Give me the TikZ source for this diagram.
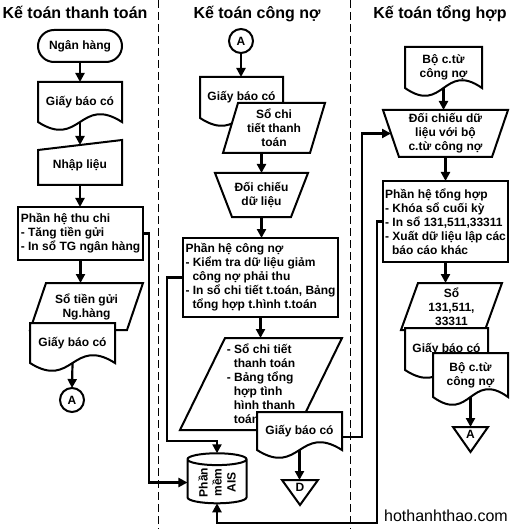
\documentclass[tikz,border=0pt]{standalone}
\usepackage{fontspec}
\setmainfont{Liberation Sans}
\usetikzlibrary{shapes.geometric,arrows.meta,calc}
\makeatletter
\newdimen\fc@xa \newdimen\fc@ya \newdimen\fc@xb \newdimen\fc@yb
\newdimen\fc@xm \newdimen\fc@s \newdimen\fc@t \newdimen\fc@u
\def\fc@slant{0pt}
\tikzset{shape slant/.code={\def\fc@slant{#1}}}
\def\fc@getbox{%
  \southwest \fc@xa=\pgf@x \fc@ya=\pgf@y
  \northeast \fc@xb=\pgf@x \fc@yb=\pgf@y
  \fc@xm=.5\fc@xa \advance\fc@xm by .5\fc@xb
  \pgfmathsetlength\fc@s{\fc@slant}%
}
% document
\pgfdeclareshape{fcdoc}{
  \inheritsavedanchors[from=rectangle]
  \inheritanchorborder[from=rectangle]
  \inheritanchor[from=rectangle]{center}
  \inheritanchor[from=rectangle]{north}
  \inheritanchor[from=rectangle]{south}
  \inheritanchor[from=rectangle]{east}
  \inheritanchor[from=rectangle]{west}
  \inheritanchor[from=rectangle]{north east}
  \inheritanchor[from=rectangle]{north west}
  \inheritanchor[from=rectangle]{south east}
  \inheritanchor[from=rectangle]{south west}
  \backgroundpath{
    \fc@getbox
    \fc@t=\fc@ya \advance\fc@t by 27pt
    \fc@u=\fc@ya \advance\fc@u by -27pt
    \pgfpathmoveto{\pgfqpoint{\fc@xa}{\fc@yb}}
    \pgfpathlineto{\pgfqpoint{\fc@xb}{\fc@yb}}
    \pgfpathlineto{\pgfqpoint{\fc@xb}{\fc@ya}}
    \pgfpathcurveto{\pgfqpoint{\fc@xm}{\fc@t}}{\pgfqpoint{\fc@xm}{\fc@u}}{\pgfqpoint{\fc@xa}{\fc@ya}}
    \pgfpathclose
  }
}
% parallelogram (data)
\pgfdeclareshape{fcpara}{
  \inheritsavedanchors[from=rectangle]
  \inheritanchorborder[from=rectangle]
  \inheritanchor[from=rectangle]{center}
  \inheritanchor[from=rectangle]{north}
  \inheritanchor[from=rectangle]{south}
  \inheritanchor[from=rectangle]{east}
  \inheritanchor[from=rectangle]{west}
  \inheritanchor[from=rectangle]{north east}
  \inheritanchor[from=rectangle]{north west}
  \inheritanchor[from=rectangle]{south east}
  \inheritanchor[from=rectangle]{south west}
  \backgroundpath{
    \fc@getbox
    \pgfpathmoveto{\pgfqpoint{\fc@xa}{\fc@ya}}
    \fc@t=\fc@xa \advance\fc@t by \fc@s
    \pgfpathlineto{\pgfqpoint{\fc@t}{\fc@yb}}
    \pgfpathlineto{\pgfqpoint{\fc@xb}{\fc@yb}}
    \fc@t=\fc@xb \advance\fc@t by -\fc@s
    \pgfpathlineto{\pgfqpoint{\fc@t}{\fc@ya}}
    \pgfpathclose
  }
}
% manual input
\pgfdeclareshape{fcmanin}{
  \inheritsavedanchors[from=rectangle]
  \inheritanchorborder[from=rectangle]
  \inheritanchor[from=rectangle]{center}
  \inheritanchor[from=rectangle]{north}
  \inheritanchor[from=rectangle]{south}
  \inheritanchor[from=rectangle]{east}
  \inheritanchor[from=rectangle]{west}
  \inheritanchor[from=rectangle]{north east}
  \inheritanchor[from=rectangle]{north west}
  \inheritanchor[from=rectangle]{south east}
  \inheritanchor[from=rectangle]{south west}
  \backgroundpath{
    \fc@getbox
    \pgfpathmoveto{\pgfqpoint{\fc@xa}{\fc@ya}}
    \fc@t=\fc@yb \advance\fc@t by -.5\fc@s
    \pgfpathlineto{\pgfqpoint{\fc@xa}{\fc@t}}
    \fc@t=\fc@yb \advance\fc@t by .5\fc@s
    \pgfpathlineto{\pgfqpoint{\fc@xb}{\fc@t}}
    \pgfpathlineto{\pgfqpoint{\fc@xb}{\fc@ya}}
    \pgfpathclose
  }
}
% manual operation (wide top)
\pgfdeclareshape{fcmanop}{
  \inheritsavedanchors[from=rectangle]
  \inheritanchorborder[from=rectangle]
  \inheritanchor[from=rectangle]{center}
  \inheritanchor[from=rectangle]{north}
  \inheritanchor[from=rectangle]{south}
  \inheritanchor[from=rectangle]{east}
  \inheritanchor[from=rectangle]{west}
  \inheritanchor[from=rectangle]{north east}
  \inheritanchor[from=rectangle]{north west}
  \inheritanchor[from=rectangle]{south east}
  \inheritanchor[from=rectangle]{south west}
  \backgroundpath{
    \fc@getbox
    \pgfpathmoveto{\pgfqpoint{\fc@xa}{\fc@yb}}
    \pgfpathlineto{\pgfqpoint{\fc@xb}{\fc@yb}}
    \fc@t=\fc@xb \advance\fc@t by -\fc@s
    \pgfpathlineto{\pgfqpoint{\fc@t}{\fc@ya}}
    \fc@t=\fc@xa \advance\fc@t by \fc@s
    \pgfpathlineto{\pgfqpoint{\fc@t}{\fc@ya}}
    \pgfpathclose
  }
}
% off-page connector (inverted triangle, tip below box)
\pgfdeclareshape{fcoff}{
  \inheritsavedanchors[from=rectangle]
  \inheritanchorborder[from=rectangle]
  \inheritanchor[from=rectangle]{center}
  \inheritanchor[from=rectangle]{north}
  \inheritanchor[from=rectangle]{south}
  \inheritanchor[from=rectangle]{east}
  \inheritanchor[from=rectangle]{west}
  \inheritanchor[from=rectangle]{north east}
  \inheritanchor[from=rectangle]{north west}
  \inheritanchor[from=rectangle]{south east}
  \inheritanchor[from=rectangle]{south west}
  \backgroundpath{
    \fc@getbox
    \pgfpathmoveto{\pgfqpoint{\fc@xa}{\fc@yb}}
    \pgfpathlineto{\pgfqpoint{\fc@xb}{\fc@yb}}
    \fc@t=\fc@ya \advance\fc@t by -\fc@s
    \pgfpathlineto{\pgfqpoint{\fc@xm}{\fc@t}}
    \pgfpathclose
  }
}
\makeatother
\begin{document}
\begin{tikzpicture}[x=1pt,y=-1pt,
  every node/.style={font=\fontsize{12}{14}\selectfont\bfseries, outer sep=0pt},
  fl/.style={draw, line width=2pt, fill=white, inner sep=2pt},
  boxnode/.style={fl, rectangle, align=left},
  docnode/.style={fl, shape=fcdoc, align=center},
  paranode/.style={fl, shape=fcpara, align=center},
  maninnode/.style={fl, shape=fcmanin, align=center},
  manopnode/.style={fl, shape=fcmanop, align=center},
  offnode/.style={fl, shape=fcoff, inner sep=0pt},
  termnode/.style={fl, rectangle, rounded corners=16pt},
  circnode/.style={draw, circle, line width=2pt, fill=white, minimum size=24pt, inner sep=0pt},
  conn/.style={line width=2.2pt, -{Triangle[length=9pt,width=9pt]}},
  sepline/.style={line width=1pt, dash pattern=on 8pt off 4pt},
  title/.style={font=\fontsize{16}{19}\selectfont\bfseries, anchor=base},
]
\useasboundingbox (0,0) rectangle (512,529);
\fill[white] (0,0) rectangle (512,529);
% lane separators
\coordinate (s1t) at (158,0); \coordinate (s1b) at (158,529);
\coordinate (s2t) at (350,0); \coordinate (s2b) at (350,529);
\draw[sepline] (s1t) -- (s1b);
\draw[sepline] (s2t) -- (s2b);
% titles
\node[title] (t1) at (75,19) {Kế toán thanh toán};
\node[title] (t2) at (257,19) {Kế toán công nợ};
\node[title] (t3) at (440,19) {Kế toán tổng hợp};
% left lane
\node[termnode, minimum width=84pt, minimum height=32pt] (bank) at (80,46) {Ngân hàng};
\node[docnode, minimum width=84pt, minimum height=40pt] (gbc1) at (80,102) {Giấy báo có};
\node[maninnode, shape slant=10pt, minimum width=84pt, minimum height=40pt] (nhap) at (80,165) {Nhập liệu};
\node[boxnode, minimum width=125pt, minimum height=53pt] (thuchi) at (80.5,233.5) {Phần hệ thu chi\\- Tăng tiền gửi\\- In sổ TG ngân hàng};
\node[paranode, shape slant=16pt, minimum width=113pt, minimum height=47pt] (sotg) at (86.5,306.5) {Sổ tiền gửi\\Ng.hàng};
\node[docnode, minimum width=85pt, minimum height=40pt] (gbc2) at (72.5,343) {Giấy báo có};
\node[circnode] (a1) at (72,400) {A};
% middle lane
\node[circnode] (a2) at (241,41) {A};
\node[docnode, minimum width=83pt, minimum height=41pt] (gbc3) at (241.5,97.5) {Giấy báo có};
\node[paranode, shape slant=15pt, minimum width=102pt, minimum height=50pt] (soct) at (274,128) {Sổ chi\\tiết thanh\\toán};
\node[manopnode, shape slant=17pt, minimum width=93pt, minimum height=44pt] (dc1) at (261.5,195) {Đối chiếu\\dữ liệu};
\node[boxnode, minimum width=155pt, minimum height=79pt] (congno) at (260.5,277.5) {Phần hệ công nợ\\- Kiểm tra dữ liệu giảm\\\hspace*{7pt}công nợ phải thu\\- In sổ chi tiết t.toán, Bảng\\\hspace*{7pt}tổng hợp t.hình t.toán};
\node[paranode, shape slant=45pt, minimum width=162pt, minimum height=92pt, align=left] (bangth) at (261,384) {- Sổ chi tiết\\\hspace*{7pt}thanh toán\\- Bảng tổng\\\hspace*{7pt}hợp tình\\\hspace*{7pt}hình thanh\\\hspace*{7pt}toán};
\node[docnode, minimum width=85pt, minimum height=38pt] (gbc4) at (299.5,431) {Giấy báo có};
\node[offnode, shape slant=11pt, minimum width=36pt, minimum height=14pt] (d) at (300,487) {D};
% right lane
\node[docnode, minimum width=77pt, minimum height=41pt] (bct1) at (443.5,67.5) {Bộ c.từ\\công nợ};
\node[manopnode, shape slant=16pt, minimum width=125pt, minimum height=47pt] (dc2) at (445.5,133.5) {Đối chiếu dữ\\liệu với bộ\\c.từ công nợ};
\node[boxnode, minimum width=125pt, minimum height=81pt] (tonghop) at (445.5,221.5) {Phần hệ tổng hợp\\- Khóa sổ cuối kỳ\\- In sổ 131,511,33311\\- Xuất dữ liệu lập các\\\hspace*{7pt}báo cáo khác};
\node[paranode, shape slant=17pt, minimum width=101pt, minimum height=47pt] (so131) at (451.5,306.5) {Sổ\\131,511,\\33311};
\node[docnode, minimum width=83pt, minimum height=42pt] (gbc5) at (446.5,349) {Giấy báo có};
\node[docnode, minimum width=75pt, minimum height=44pt] (bct2) at (470.5,375) {Bộ c.từ\\công nợ};
\node[offnode, shape slant=11pt, minimum width=35pt, minimum height=14pt] (a3) at (470.5,434) {A};
% database
\node[cylinder, draw, line width=2pt, fill=white, rotate=90, minimum width=59pt, minimum height=50pt, aspect=0.3, inner sep=1pt, align=center] (ais) at (217,482.5) {Phần\\mềm\\AIS};
% watermark
\node[font=\fontsize{16}{19}\selectfont, anchor=base] (wm) at (446,521) {hothanhthao.com};
% connectors
\draw[conn] (bank.south) -- (gbc1.north);
\draw[conn] (gbc1.south) -- (nhap.north);
\draw[conn] (nhap.south) -- (nhap.south |- thuchi.north);
\draw[conn] (thuchi.south) -- (thuchi.south |- sotg.north);
\draw[conn] (gbc2.south) -- (a1.north);
\draw[conn] (a2.south) -- (a2.south |- gbc3.north);
\draw[conn] (dc1.north |- soct.south) -- (dc1.north);
\draw[conn] (dc1.south) -- (dc1.south |- congno.north);
\draw[conn] (congno.south) -- (congno.south |- bangth.north);
\draw[conn] (gbc4.south) -- (gbc4.south |- d.north);
\draw[conn] (bct1.south) -- (bct1.south |- dc2.north);
\draw[conn] (dc2.south) -- (dc2.south |- tonghop.north);
\draw[conn] (tonghop.south) -- (tonghop.south |- so131.north);
\draw[conn] (bct2.south) -- (bct2.south |- a3.north);
\draw[conn] (thuchi.east) -- ++(6,0) |- (ais);
\draw[conn] (congno.west) -- ++(-16,0) -- ++(0,163.5) -| (ais.top);
\coordinate (dc2in) at ($(dc2.north west)!0.5!(dc2.south west)+(8,0)$);
\draw[conn] ($(gbc4.north east)!0.65!(gbc4.south east)$) -- ++(20,0) |- (dc2in);
\draw[conn] (tonghop.west) -- ++(-6,0) -- ++(0,301.5) -| (ais.bottom);
\end{tikzpicture}
\end{document}
